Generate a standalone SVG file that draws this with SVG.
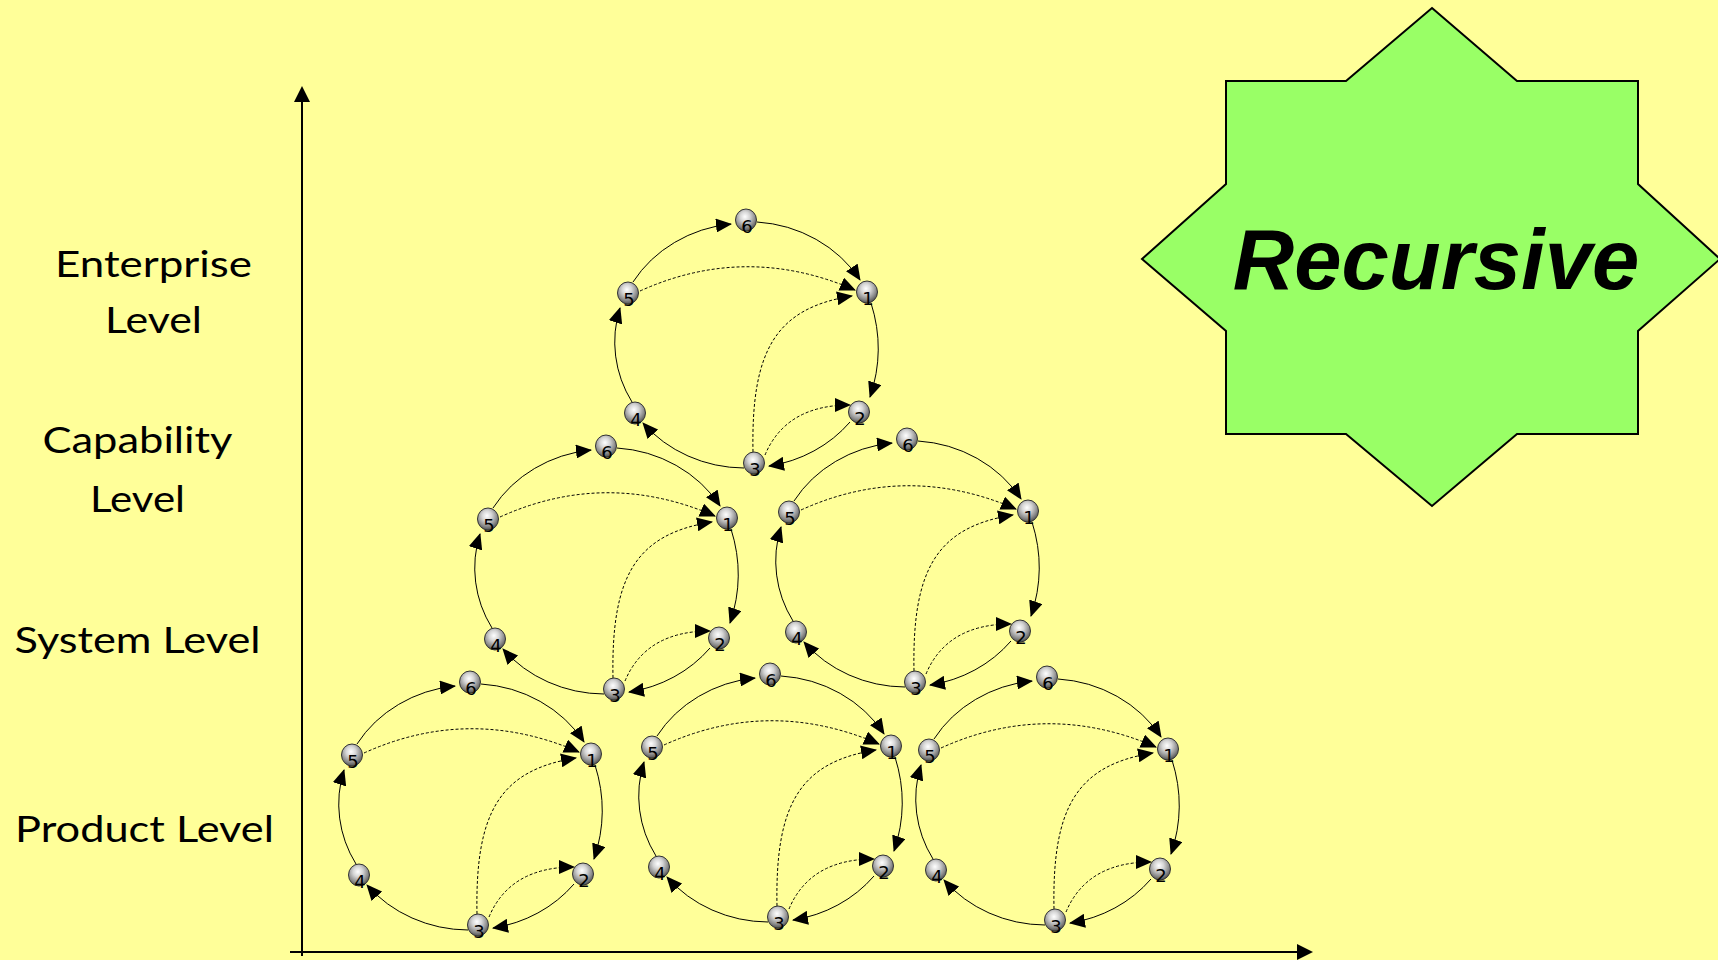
<svg xmlns="http://www.w3.org/2000/svg" width="1718" height="960" viewBox="0 0 1718 960">
<style>
.lbl{font-family:Lato,"Open Sans",sans-serif;font-size:37px;fill:#000;text-anchor:middle}
.s{fill:none;stroke:#000;stroke-width:1;marker-end:url(#ah)}
.d{fill:none;stroke:#000;stroke-width:1;stroke-dasharray:3 2;marker-end:url(#ah)}
.node ellipse{fill:url(#ball);stroke:#333;stroke-width:1}
.node text{font-family:"DejaVu Sans",sans-serif;font-size:18px;fill:#000;text-anchor:middle}
.axis{stroke:#000;stroke-width:2;fill:none;marker-end:url(#axh)}
</style>
<defs>
<radialGradient id="ball" cx="45%" cy="35%" r="65%">
<stop offset="0%" stop-color="#ffffff"/>
<stop offset="35%" stop-color="#d6d6d6"/>
<stop offset="75%" stop-color="#8a8a8a"/>
<stop offset="100%" stop-color="#505050"/>
</radialGradient>
<marker id="ah" markerUnits="userSpaceOnUse" markerWidth="16" markerHeight="14" refX="15" refY="7" orient="auto">
<path d="M0,0 L16,7 L0,14 z" fill="#000"/>
</marker>
<marker id="axh" markerUnits="userSpaceOnUse" markerWidth="16" markerHeight="16" refX="14" refY="8" orient="auto">
<path d="M0,0 L16,8 L0,16 z" fill="#000"/>
</marker>
<g id="loopLines">
<path class="s" d="M-113,62 A131,121 0 0 1 -15,4"/>
<path class="s" d="M11,2 A131,121 0 0 1 114,60"/>
<path class="s" d="M125,83 A150,150 0 0 1 124,177"/>
<path class="s" d="M104,202 A131,121 0 0 1 23,246"/>
<path class="s" d="M-2,248 A131,121 0 0 1 -103,203"/>
<path class="s" d="M-114,182 A131,121 0 0 1 -126,88"/>
<path class="d" d="M-106,71 Q0,23 109,70"/>
<path class="d" d="M7,232 C5,130 30,88 106,76"/>
<path class="d" d="M19,235 Q40,185 104,185"/>
</g>
</defs>
<rect width="1718" height="960" fill="#FFFF99"/>

<g id="axes">
<line class="axis" x1="302" y1="956" x2="302" y2="88"/>
<line class="axis" x1="290" y1="952" x2="1311" y2="952"/>
</g>

<g id="labels">
<text class="lbl" x="153.5" y="277" textLength="197" lengthAdjust="spacingAndGlyphs">Enterprise</text>
<text class="lbl" x="153.5" y="333" textLength="97" lengthAdjust="spacingAndGlyphs">Level</text>
<text class="lbl" x="137.5" y="453" textLength="190" lengthAdjust="spacingAndGlyphs">Capability</text>
<text class="lbl" x="137.5" y="512" textLength="95" lengthAdjust="spacingAndGlyphs">Level</text>
<text class="lbl" x="137.5" y="653" textLength="246" lengthAdjust="spacingAndGlyphs">System Level</text>
<text class="lbl" x="144.5" y="842" textLength="259" lengthAdjust="spacingAndGlyphs">Product Level</text>
</g>

<g id="recursive">
<polygon points="1432,8 1517,81 1638,81 1638,184 1720,259 1638,331 1638,434 1517,434 1432,506 1346,434 1226,434 1226,331 1142,259 1226,184 1226,81 1346,81" fill="#99FF66" stroke="#000" stroke-width="2"/>
<text x="1436" y="289" font-family="'Liberation Sans',Arial,sans-serif" font-size="85" font-weight="bold" font-style="italic" text-anchor="middle" fill="#000">Recursive</text>
</g>

<g id="connectors">
<use href="#loopLines" transform="translate(746,220)"/>
<use href="#loopLines" transform="translate(606,446)"/>
<use href="#loopLines" transform="translate(907,439)"/>
<use href="#loopLines" transform="translate(470,682)"/>
<use href="#loopLines" transform="translate(770,674)"/>
<use href="#loopLines" transform="translate(1047,677)"/>
</g>

<g id="T6" class="node" transform="translate(746,220)"><ellipse rx="10.5" ry="11"/><text x="1" y="13">6</text></g>
<g id="T1" class="node" transform="translate(867,292)"><ellipse rx="10.5" ry="11"/><text x="1" y="13">1</text></g>
<g id="T2" class="node" transform="translate(859,412)"><ellipse rx="10.5" ry="11"/><text x="1" y="13">2</text></g>
<g id="T3" class="node" transform="translate(754,463)"><ellipse rx="10.5" ry="11"/><text x="1" y="13">3</text></g>
<g id="T4" class="node" transform="translate(635,413)"><ellipse rx="10.5" ry="11"/><text x="1" y="13">4</text></g>
<g id="T5" class="node" transform="translate(628,293)"><ellipse rx="10.5" ry="11"/><text x="1" y="13">5</text></g>

<g id="CL6" class="node" transform="translate(606,446)"><ellipse rx="10.5" ry="11"/><text x="1" y="13">6</text></g>
<g id="CL1" class="node" transform="translate(727,518)"><ellipse rx="10.5" ry="11"/><text x="1" y="13">1</text></g>
<g id="CL2" class="node" transform="translate(719,638)"><ellipse rx="10.5" ry="11"/><text x="1" y="13">2</text></g>
<g id="CL3" class="node" transform="translate(614,689)"><ellipse rx="10.5" ry="11"/><text x="1" y="13">3</text></g>
<g id="CL4" class="node" transform="translate(495,639)"><ellipse rx="10.5" ry="11"/><text x="1" y="13">4</text></g>
<g id="CL5" class="node" transform="translate(488,519)"><ellipse rx="10.5" ry="11"/><text x="1" y="13">5</text></g>

<g id="CR6" class="node" transform="translate(907,439)"><ellipse rx="10.5" ry="11"/><text x="1" y="13">6</text></g>
<g id="CR1" class="node" transform="translate(1028,511)"><ellipse rx="10.5" ry="11"/><text x="1" y="13">1</text></g>
<g id="CR2" class="node" transform="translate(1020,631)"><ellipse rx="10.5" ry="11"/><text x="1" y="13">2</text></g>
<g id="CR3" class="node" transform="translate(915,682)"><ellipse rx="10.5" ry="11"/><text x="1" y="13">3</text></g>
<g id="CR4" class="node" transform="translate(796,632)"><ellipse rx="10.5" ry="11"/><text x="1" y="13">4</text></g>
<g id="CR5" class="node" transform="translate(789,512)"><ellipse rx="10.5" ry="11"/><text x="1" y="13">5</text></g>

<g id="PL6" class="node" transform="translate(470,682)"><ellipse rx="10.5" ry="11"/><text x="1" y="13">6</text></g>
<g id="PL1" class="node" transform="translate(591,754)"><ellipse rx="10.5" ry="11"/><text x="1" y="13">1</text></g>
<g id="PL2" class="node" transform="translate(583,874)"><ellipse rx="10.5" ry="11"/><text x="1" y="13">2</text></g>
<g id="PL3" class="node" transform="translate(478,925)"><ellipse rx="10.5" ry="11"/><text x="1" y="13">3</text></g>
<g id="PL4" class="node" transform="translate(359,875)"><ellipse rx="10.5" ry="11"/><text x="1" y="13">4</text></g>
<g id="PL5" class="node" transform="translate(352,755)"><ellipse rx="10.5" ry="11"/><text x="1" y="13">5</text></g>

<g id="PM6" class="node" transform="translate(770,674)"><ellipse rx="10.5" ry="11"/><text x="1" y="13">6</text></g>
<g id="PM1" class="node" transform="translate(891,746)"><ellipse rx="10.5" ry="11"/><text x="1" y="13">1</text></g>
<g id="PM2" class="node" transform="translate(883,866)"><ellipse rx="10.5" ry="11"/><text x="1" y="13">2</text></g>
<g id="PM3" class="node" transform="translate(778,917)"><ellipse rx="10.5" ry="11"/><text x="1" y="13">3</text></g>
<g id="PM4" class="node" transform="translate(659,867)"><ellipse rx="10.5" ry="11"/><text x="1" y="13">4</text></g>
<g id="PM5" class="node" transform="translate(652,747)"><ellipse rx="10.5" ry="11"/><text x="1" y="13">5</text></g>

<g id="PR6" class="node" transform="translate(1047,677)"><ellipse rx="10.5" ry="11"/><text x="1" y="13">6</text></g>
<g id="PR1" class="node" transform="translate(1168,749)"><ellipse rx="10.5" ry="11"/><text x="1" y="13">1</text></g>
<g id="PR2" class="node" transform="translate(1160,869)"><ellipse rx="10.5" ry="11"/><text x="1" y="13">2</text></g>
<g id="PR3" class="node" transform="translate(1055,920)"><ellipse rx="10.5" ry="11"/><text x="1" y="13">3</text></g>
<g id="PR4" class="node" transform="translate(936,870)"><ellipse rx="10.5" ry="11"/><text x="1" y="13">4</text></g>
<g id="PR5" class="node" transform="translate(929,750)"><ellipse rx="10.5" ry="11"/><text x="1" y="13">5</text></g>
</svg>
